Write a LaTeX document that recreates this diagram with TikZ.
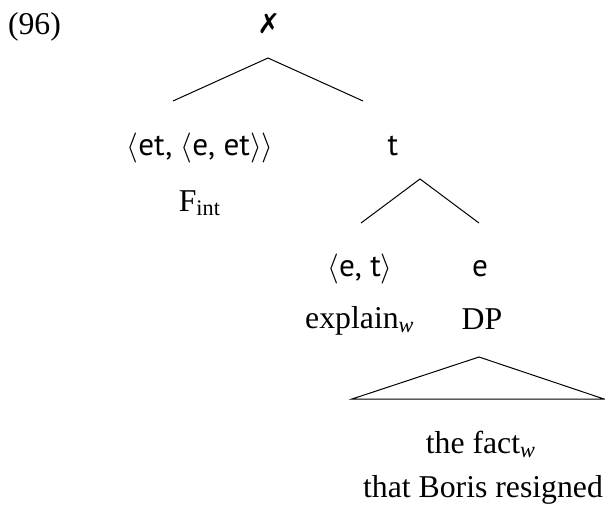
\documentclass[tikz,border=0pt]{standalone}
\usepackage{fontspec}
\setmainfont{Liberation Serif}
\newfontfamily\typefont{PT Sans}
\newfontfamily\markfont{DejaVu Sans}
\usetikzlibrary{positioning}

\begin{document}
\begin{tikzpicture}[x=0.4pt,y=-0.4pt,font=\fontsize{12.7}{15}\selectfont,
        every node/.style={inner sep=0pt, outer sep=0pt},
        type/.style={font=\fontsize{12.5}{15}\selectfont\typefont, anchor=base},
        word/.style={anchor=base}]
        \useasboundingbox (0,0) rectangle (605,519);
        \node [anchor=base west] at (8,35) (num) {(96)};
        \node [font=\fontsize{11}{13}\selectfont\markfont\bfseries] at (269,24) (root) {✗};
        \node [type] at (200,155) (lefttype) {$\langle$et, $\langle$e, et$\rangle\rangle$};
        \node [type] at (393,155) (ttype) {t};
        \node [word] at (200,211) (fint) {F\textsubscript{int}};
        \node [type] at (360,276) (ettype) {$\langle$e, t$\rangle$};
        \node [type] at (480,276) (etype) {e};
        \node [word] at (360,328) (explain) {explain\textsubscript{\textit{w}}};
        \node [word] at (482,329) (dp) {DP};
        \node [word] at (481,453) (fact) {the fact\textsubscript{\textit{w}}};
        \node [word] at (483,497) (boris) {that Boris resigned};
        % branch points
        \coordinate (topapex) at (268,58);
        \coordinate (topleft) at (173,101);
        \coordinate (topright) at (363,101);
        \coordinate (tapex) at (420,179);
        \coordinate (tleft) at (361,223);
        \coordinate (tright) at (479,223);
        \coordinate (dpapex) at (479,357);
        \draw (topleft) -- (topapex) -- (topright);
        \draw (tleft) -- (tapex) -- (tright);
        \draw (dpapex) -- (352,399) -- (604,399) -- cycle;
\end{tikzpicture}
\end{document}
